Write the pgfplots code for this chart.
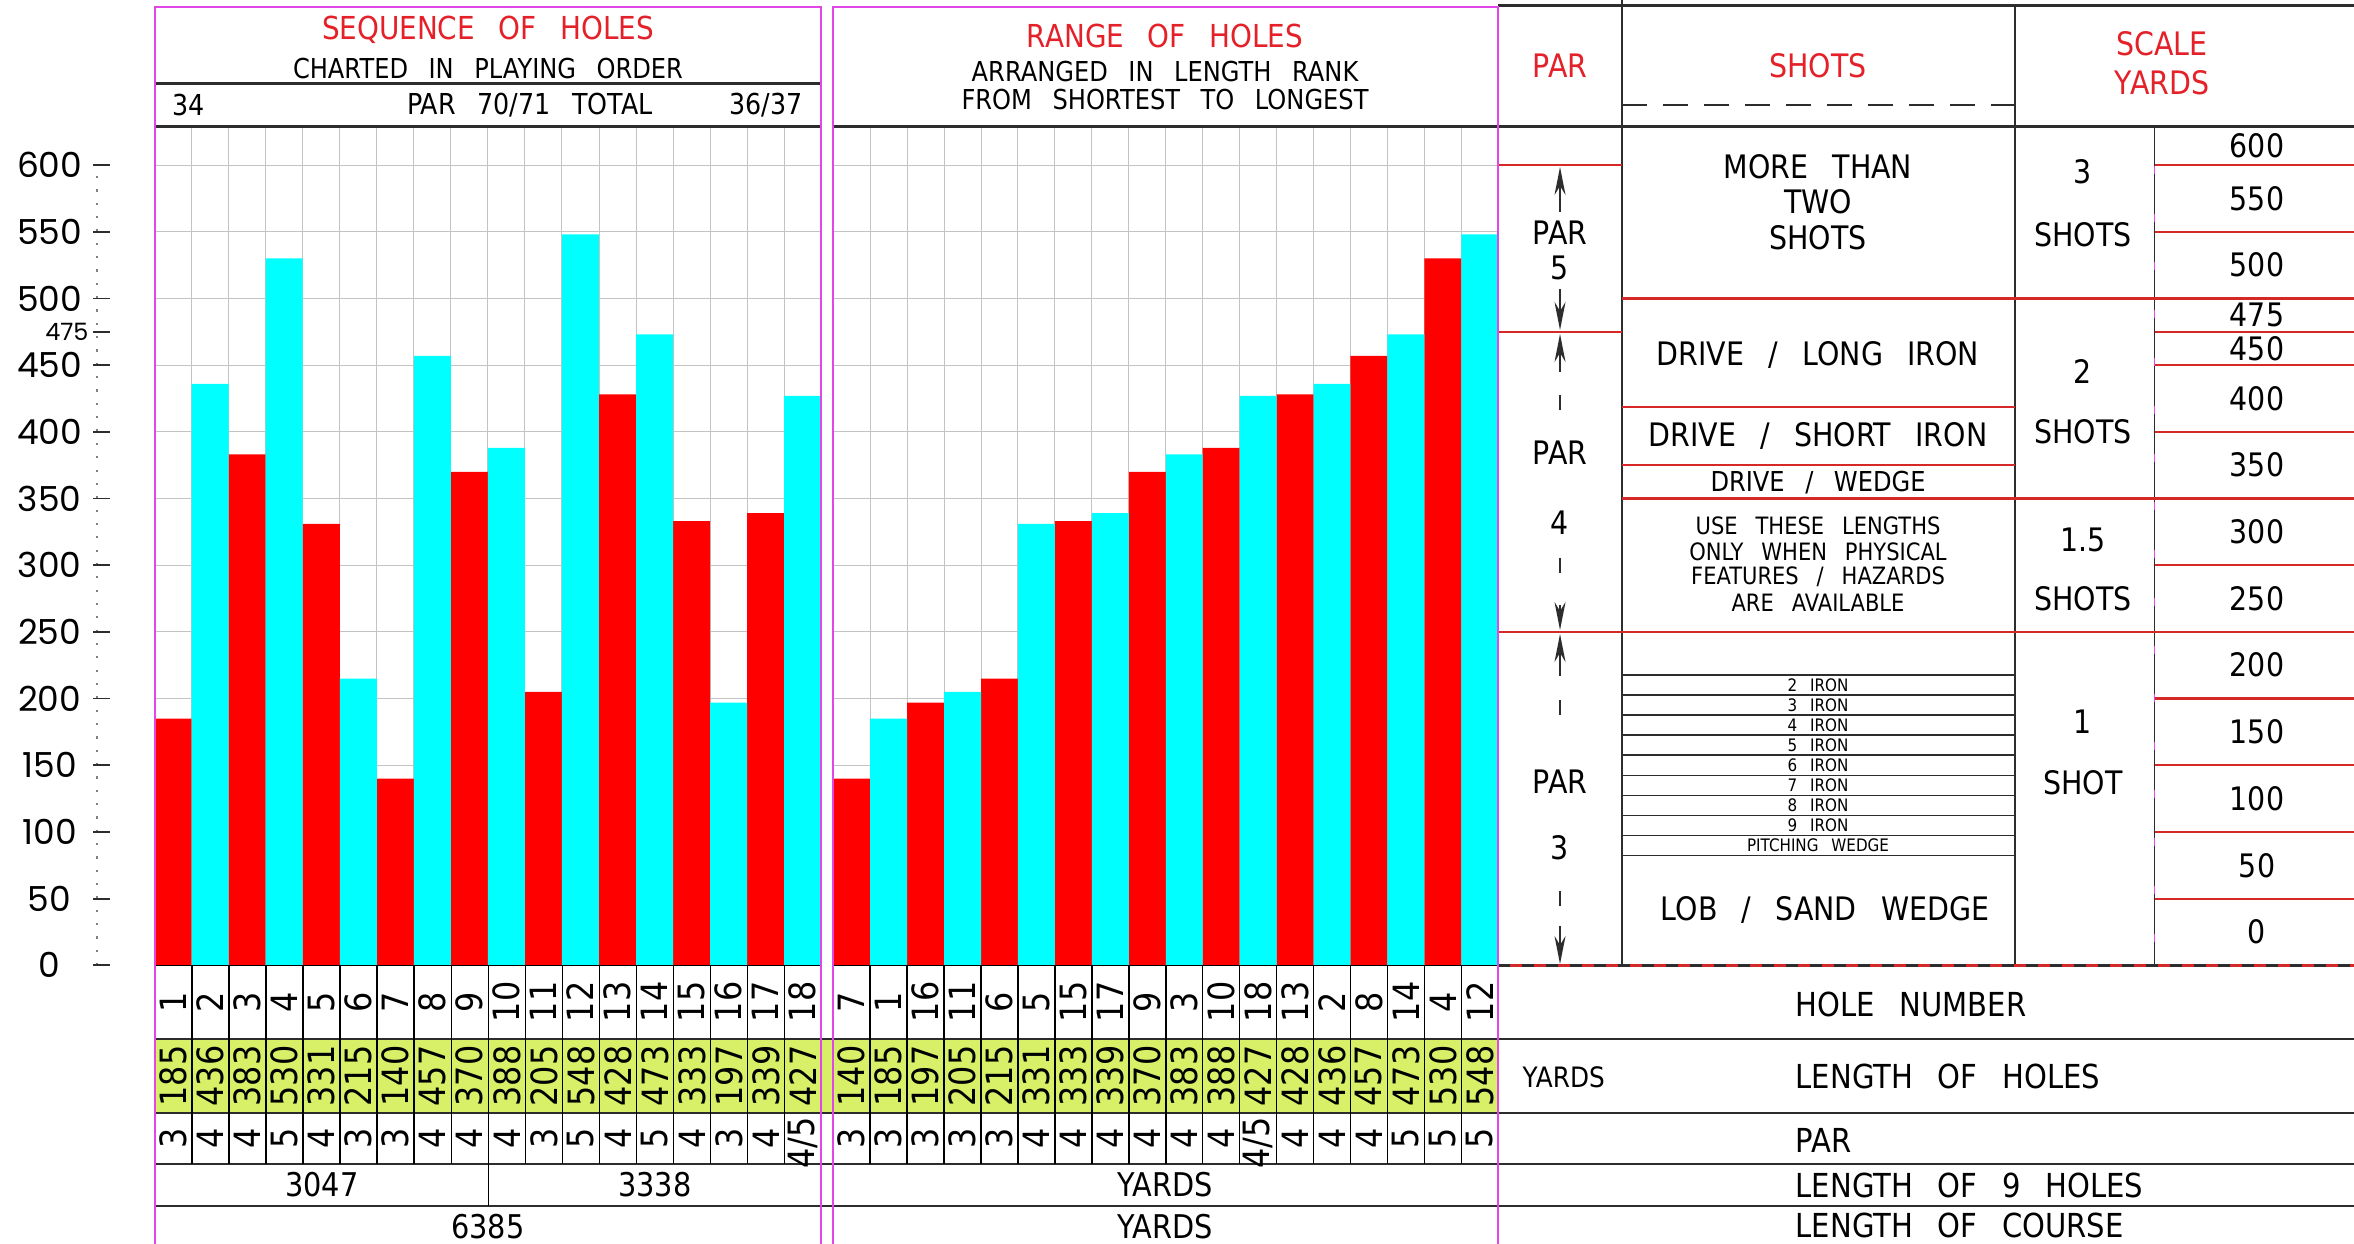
\documentclass[border=0pt]{standalone}
\usepackage{pgfplots}
\pgfplotsset{compat=1.18}
\usepackage{fontspec}
\setmainfont{DejaVu Sans}[FakeStretch=0.88]
\newfontfamily\tickfont{Poppins}
\usetikzlibrary{arrows.meta}
\definecolor{barred}{RGB}{255,0,0}
\definecolor{barcyan}{RGB}{0,255,255}
\definecolor{limecell}{RGB}{216,240,104}
\definecolor{magline}{RGB}{225,70,230}
\definecolor{titlered}{RGB}{228,32,40}
\definecolor{linered}{RGB}{215,40,40}
\definecolor{gridgray}{RGB}{195,195,195}
\definecolor{darkline}{RGB}{45,45,45}
\newcommand{\fs}[1]{\fontsize{#1}{#1}\selectfont}
\newcommand{\w}{\hspace{0.75em}}

\pgfplotsset{holeaxis/.style={
  anchor=south west, height=83.92mm, scale only axis,
  xmin=0.5, xmax=18.5, ymin=0, ymax=629.2,
  axis line style={draw=none},
  major tick length=0pt, minor tick length=0pt,
  xtick={1,...,18}, minor xtick={0.5,1.5,...,18.5},
  xmajorgrids=false, xminorgrids=true, ymajorgrids=true,
  major grid style={gridgray, line width=0.1mm},
  minor grid style={gridgray, line width=0.1mm},
  ytick={0,50,...,600},
  xticklabel style={font=\fs{10.3}, yshift=-3.67mm, rotate=90, anchor=center, inner sep=0pt},
  clip=false,
}}

\begin{document}
\begin{tikzpicture}
\useasboundingbox (0,0) rectangle (235.4mm,124.4mm);

\begin{scope}[x=0.1mm,y=-0.1mm,yshift=124.4mm]
  \fill[limecell] (155,1039) rectangle (1498,1113);
\end{scope}

% ---------- sequence of holes ----------
\begin{axis}[holeaxis, at={(15.46mm,27.87mm)}, width=66.66mm,
  xticklabels={1,2,3,4,5,6,7,8,9,10,11,12,13,14,15,16,17,18},
  /pgf/number format/assume math mode=true,
  yticklabel style={font=\tickfont\fs{9.8}, anchor=center, inner sep=0pt, xshift=-10.5mm},
  extra y ticks={475},
  extra y tick style={grid=none, yticklabel style={font=\tickfont\fs{6.8}, anchor=east, xshift=3.95mm}},
]
\addplot[ybar, bar width=3.703mm, bar shift=0pt, fill=barred, draw=none]
  coordinates {(1,185) (3,383) (5,331) (7,140) (9,370) (11,205) (13,428) (15,333) (17,339)};
\addplot[ybar, bar width=3.703mm, bar shift=0pt, fill=barcyan, draw=none]
  coordinates {(2,436) (4,530) (6,215) (8,457) (10,388) (12,548) (14,473) (16,197) (18,427)};
\end{axis}

% ---------- range of holes ----------
\begin{axis}[holeaxis, at={(83.32mm,27.87mm)}, width=66.51mm,
  xticklabels={7,1,16,11,6,5,15,17,9,3,10,18,13,2,8,14,4,12},
  yticklabels={},
]
\addplot[ybar, bar width=3.695mm, bar shift=0pt, fill=barred, draw=none]
  coordinates {(1,140) (3,197) (5,215) (7,333) (9,370) (11,388) (13,428) (15,457) (17,530)};
\addplot[ybar, bar width=3.695mm, bar shift=0pt, fill=barcyan, draw=none]
  coordinates {(2,185) (4,205) (6,331) (8,339) (10,383) (12,427) (14,436) (16,473) (18,548)};
\end{axis}

\begin{scope}[x=0.1mm,y=-0.1mm,yshift=124.4mm]
  % ---- y ruler ----
  \draw[gray, line width=0.22mm, dash pattern=on 0.22mm off 1.114mm] (97,965.3) -- (97,165.1);
  \foreach \v in {0,50,...,600}{\draw[darkline, line width=0.18mm] (93,{965.3-1.33367*\v}) -- (110,{965.3-1.33367*\v});}
  \draw[darkline, line width=0.18mm] (93,{965.3-1.33367*475}) -- (110,{965.3-1.33367*475});

  % ---- lower table lines ----
  \draw[black, line width=0.15mm] (155,965.3) -- (821,965.3) (833,965.3) -- (1498,965.3);
  \foreach \yy in {1039,1113,1164,1206}{\draw[darkline, line width=0.22mm] (155,\yy) -- (2354,\yy);}
  \foreach \i in {1,...,17}{
    \draw[black, line width=0.15mm] ({155+\i*37.033},965.3) -- ({155+\i*37.033},1164);
    \draw[black, line width=0.15mm] ({833.2+\i*36.95},965.3) -- ({833.2+\i*36.95},1164);
  }
  \draw[black, line width=0.15mm] (488.3,1164) -- (488.3,1206);

  % yards and par rows (playing order)
  \foreach \v [count=\i] in {185,436,383,530,331,215,140,457,370,388,205,548,428,473,333,197,339,427}
    \node[rotate=90, font=\fs{10.3}, inner sep=0pt] at ({155+(\i-0.5)*37.033},1076) {\v};
  \foreach \v [count=\i] in {3,4,4,5,4,3,3,4,4,4,3,5,4,5,4,3,4}
    \node[rotate=90, font=\fs{10.3}, inner sep=0pt] at ({155+(\i-0.5)*37.033},1138) {\v};
  \node[rotate=90, font=\fs{10.3}, inner sep=0pt] at ({155+17.5*37.033},1143) {4/5};
  % yards and par rows (ranked)
  \foreach \v [count=\i] in {140,185,197,205,215,331,333,339,370,383,388,427,428,436,457,473,530,548}
    \node[rotate=90, font=\fs{10.3}, inner sep=0pt] at ({833.2+(\i-0.5)*36.95},1076) {\v};
  \foreach \v [count=\i] in {3,3,3,3,3,4,4,4,4,4,4}
    \node[rotate=90, font=\fs{10.3}, inner sep=0pt] at ({833.2+(\i-0.5)*36.95},1138) {\v};
  \node[rotate=90, font=\fs{10.3}, inner sep=0pt] at ({833.2+11.5*36.95},1143) {4/5};
  \foreach \v [count=\i from 13] in {4,4,4,5,5,5}
    \node[rotate=90, font=\fs{10.3}, inner sep=0pt] at ({833.2+(\i-0.5)*36.95},1138) {\v};

  \node[font=\fs{9.3}] at (322,1185) {3047};
  \node[font=\fs{9.3}] at (655,1185) {3338};
  \node[font=\fs{9.3}] at (488,1227) {6385};
  \node[font=\fs{9.3}] at (1165,1185) {YARDS};
  \node[font=\fs{9.3}] at (1165,1227) {YARDS};

  % ---- headers of the two charts ----
  \draw[darkline, line width=0.3mm] (155,84) -- (821,84);
  \draw[darkline, line width=0.3mm] (155,126.1) -- (821,126.1) (833,126.1) -- (1498,126.1);
  \node[font=\fs{9}, text=titlered] at (488,30) {SEQUENCE\w OF\w HOLES};
  \node[font=\fs{7.8}] at (488,69) {CHARTED\w IN\w PLAYING\w ORDER};
  \node[font=\fs{8.2}, anchor=west] at (160,105) {34};
  \node[font=\fs{8.2}] at (530,105) {PAR\w 70/71\w TOTAL};
  \node[font=\fs{8.2}, anchor=east] at (815,105) {36/37};
  \node[font=\fs{9}, text=titlered] at (1165,36) {RANGE\w OF\w HOLES};
  \node[font=\fs{7.8}] at (1165,72) {ARRANGED\w IN\w LENGTH\w RANK};
  \node[font=\fs{7.8}] at (1165,100) {FROM\w SHORTEST\w TO\w LONGEST};

  % ---- right table frame ----
  \draw[darkline, line width=0.3mm] (1498,6) -- (2354,6);
  \draw[darkline, line width=0.3mm] (1498,126.1) -- (2354,126.1);
  \draw[darkline, line width=0.18mm] (1622,0) -- (1622,965.3);
  \draw[darkline, line width=0.18mm] (2015,6) -- (2015,965.3);
  \draw[magline, line width=0.12mm] (2154.5,126.1) -- (2154.5,965.3);
  \draw[darkline, line width=0.18mm, dash pattern=on 4mm off 0.8mm] (2154.5,126.1) -- (2154.5,965.3);
  \draw[darkline, line width=0.2mm, dash pattern=on 2.5mm off 1.6mm] (1622,105) -- (2015,105);
  \node[font=\fs{9.2}, text=titlered] at (1560,66) {PAR};
  \node[font=\fs{9.2}, text=titlered] at (1818,66) {SHOTS};
  \node[font=\fs{9.2}, text=titlered] at (2162,44) {SCALE};
  \node[font=\fs{9.2}, text=titlered] at (2162,83) {YARDS};

  % red level lines
  \draw[linered, line width=0.22mm] (1498,165.1) -- (1622,165.1);
  \draw[linered, line width=0.22mm] (1498,331.8) -- (1622,331.8);
  \draw[linered, line width=0.22mm] (1622,298.5) -- (2354,298.5);
  \draw[linered, line width=0.22mm] (1622,406.7) -- (2015,406.7);
  \draw[linered, line width=0.22mm] (1622,465.3) -- (2015,465.3);
  \draw[linered, line width=0.22mm] (1622,498.5) -- (2354,498.5);
  \draw[linered, line width=0.22mm] (1498,631.9) -- (2354,631.9);
  \foreach \v in {600,550,475,450,400,300,200,150,100,50}
    \draw[linered, line width=0.22mm] (2154.5,{965.3-1.33367*\v}) -- (2354,{965.3-1.33367*\v});
  \draw[linered, line width=0.25mm] (1498,965.3) -- (2354,965.3);
  \draw[darkline, line width=0.25mm, dash pattern=on 1.2mm off 1.2mm] (1498,965.3) -- (2354,965.3);

  % scale labels
  \foreach \lab/\lev in {600/614.6,550/575,500/525,475/487.5,450/462.5,400/425,350/375,300/325,250/275,200/225,150/175,100/125,50/75,0/25}
    \node[font=\fs{9.2}] at (2257,{965.3-1.33367*\lev}) {\lab};

  % par column
  \tikzset{parar/.style={darkline, line width=0.2mm, -{Stealth[length=2.8mm,width=1.1mm]}}}
  \draw[parar] (1560,212) -- (1560,167);
  \draw[parar] (1560,289) -- (1560,330);
  \node[font=\fs{9.2}] at (1560,233) {PAR};
  \node[font=\fs{9.2}] at (1560,268) {5};
  \draw[parar] (1560,372) -- (1560,334);
  \draw[darkline, line width=0.2mm] (1560,395) -- (1560,410) (1560,558) -- (1560,573);
  \node[font=\fs{9.2}] at (1560,453) {PAR};
  \node[font=\fs{9.2}] at (1560,523) {4};
  \draw[parar] (1560,605) -- (1560,630);
  \draw[parar] (1560,676) -- (1560,634);
  \draw[darkline, line width=0.2mm] (1560,700) -- (1560,715) (1560,891) -- (1560,906);
  \node[font=\fs{9.2}] at (1560,782) {PAR};
  \node[font=\fs{9.2}] at (1560,848) {3};
  \draw[parar] (1560,926) -- (1560,964);

  % shots column
  \node[font=\fs{9.2}] at (1818,167) {MORE\w THAN};
  \node[font=\fs{9.2}] at (1818,202) {TWO};
  \node[font=\fs{9.2}] at (1818,238) {SHOTS};
  \node[font=\fs{9.2}] at (1818,355) {DRIVE\w /\w LONG\w IRON};
  \node[font=\fs{9.2}] at (1818,436) {DRIVE\w /\w SHORT\w IRON};
  \node[font=\fs{7.8}] at (1818,483) {DRIVE\w /\w WEDGE};
  \node[font=\fs{6.8}] at (1818,526) {USE\w THESE\w LENGTHS};
  \node[font=\fs{6.8}] at (1818,552) {ONLY\w WHEN\w PHYSICAL};
  \node[font=\fs{6.8}] at (1818,577) {FEATURES\w /\w HAZARDS};
  \node[font=\fs{6.8}] at (1818,603) {ARE\w AVAILABLE};
  \foreach \k in {0,...,9}
    \draw[darkline, line width=0.15mm] (1622,{965.3-1.33367*(217.5-15*\k)}) -- (2015,{965.3-1.33367*(217.5-15*\k)});
  \foreach \lab [count=\k from 0] in {2\w IRON,3\w IRON,4\w IRON,5\w IRON,6\w IRON,7\w IRON,8\w IRON,9\w IRON,PITCHING\w WEDGE}
    \node[font=\fs{4.9}] at (1818,{965.3-1.33367*(210-15*\k)}) {\lab};
  \node[font=\fs{9.2}] at (1825,910) {LOB\w /\w SAND\w WEDGE};

  % shots count column
  \node[font=\fs{9.2}] at (2083,172) {3};
  \node[font=\fs{9.2}] at (2083,235) {SHOTS};
  \node[font=\fs{9.2}] at (2083,372) {2};
  \node[font=\fs{9.2}] at (2083,432) {SHOTS};
  \node[font=\fs{9.2}] at (2083,540) {1.5};
  \node[font=\fs{9.2}] at (2083,599) {SHOTS};
  \node[font=\fs{9.2}] at (2083,722) {1};
  \node[font=\fs{9.2}] at (2083,783) {SHOT};

  % bottom right labels
  \node[font=\fs{9.4}, anchor=west, inner sep=0pt] at (1795,1004) {HOLE\w NUMBER};
  \node[font=\fs{8}, anchor=west, inner sep=0pt] at (1522,1077) {YARDS};
  \node[font=\fs{9.4}, anchor=west, inner sep=0pt] at (1795,1076) {LENGTH\w OF\w HOLES};
  \node[font=\fs{9.4}, anchor=west, inner sep=0pt] at (1795,1140) {PAR};
  \node[font=\fs{9.4}, anchor=west, inner sep=0pt] at (1795,1185) {LENGTH\w OF\w 9\w HOLES};
  \node[font=\fs{9.4}, anchor=west, inner sep=0pt] at (1795,1225) {LENGTH\w OF\w COURSE};

  % magenta panel borders
  \draw[magline, line width=0.25mm] (155,1244) -- (155,7) -- (821,7) -- (821,1244);
  \draw[magline, line width=0.25mm] (833,1244) -- (833,7) -- (1498,7) -- (1498,1244);
\end{scope}
\end{tikzpicture}
\end{document}
